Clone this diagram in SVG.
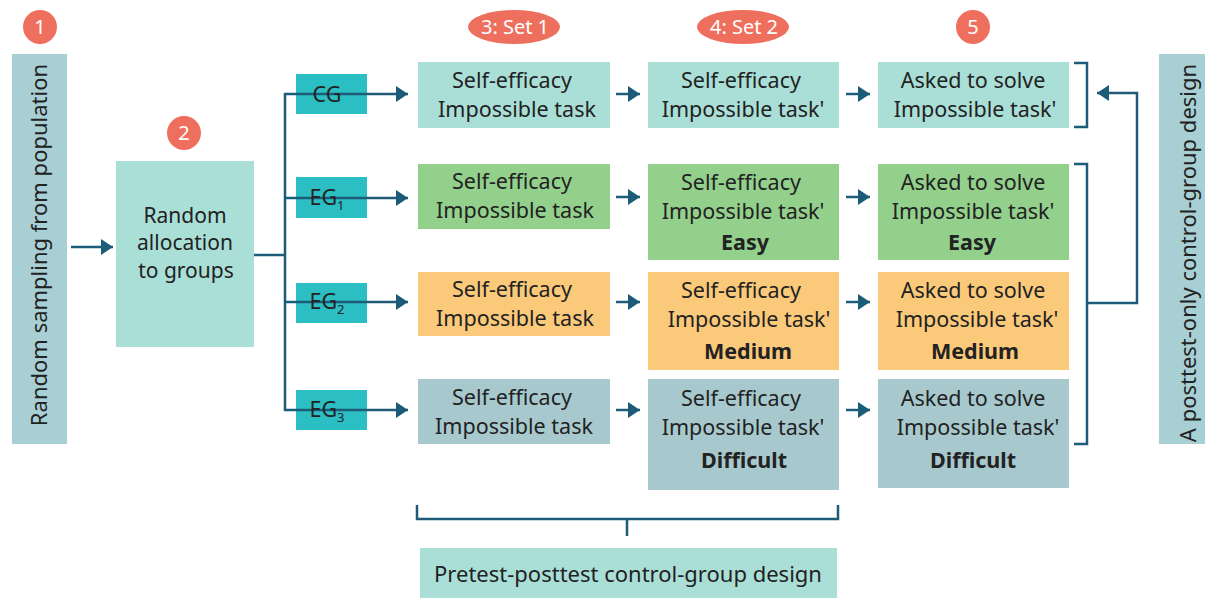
<svg xmlns="http://www.w3.org/2000/svg" width="1205" height="598" viewBox="0 0 1205 598">
<style>
text{font-family:"Noto Sans","Open Sans",sans-serif;fill:#222;}
.t{font-size:21.5px;text-anchor:middle;}
.b{font-weight:bold;}
.hd{font-size:20px;fill:#fff;text-anchor:middle;}
.ln{stroke:#1d5c78;stroke-width:2.5;fill:none;}
.cg{fill:#aadfd8;}
.eg1{fill:#93d08c;}
.eg2{fill:#fbc97a;}
.eg3{fill:#a7c9cd;}
.grp{fill:#2bbfc3;}
.side{fill:#a8d0d4;}
.badge{fill:#ef6f5e;}
</style>
<defs>
<marker id="ah" markerUnits="userSpaceOnUse" markerWidth="12" markerHeight="16" refX="12" refY="8" orient="auto">
<path d="M0,0 L12,8 L0,16 z" fill="#1d5c78"/>
</marker>
</defs>

<g id="badges">
<circle class="badge" cx="40" cy="27" r="17"/><text class="hd" x="40" y="34">1</text>
<circle class="badge" cx="184" cy="133" r="17"/><text class="hd" x="184" y="140">2</text>
<ellipse class="badge" cx="514" cy="27" rx="46" ry="17"/><text class="hd" x="515" y="34">3: Set 1</text>
<ellipse class="badge" cx="743" cy="27" rx="46" ry="17"/><text class="hd" x="744" y="34">4: Set 2</text>
<circle class="badge" cx="973" cy="27" r="17"/><text class="hd" x="973" y="34">5</text>
</g>

<g id="sampling">
<rect class="side" x="12" y="54" width="55" height="390"/>
<text class="t" style="font-size:22px" transform="translate(47,245) rotate(-90)">Random sampling from population</text>
</g>

<g id="allocation">
<rect class="cg" x="116" y="161" width="138" height="186"/>
<text class="t" x="185" y="223" style="font-size:21px">Random</text>
<text class="t" x="185" y="250" style="font-size:21px">allocation</text>
<text class="t" x="186" y="278" style="font-size:21px">to groups</text>
</g>

<g id="posttest-only">
<rect class="side" x="1159" y="54" width="46" height="390"/>
<text class="t" style="font-size:22px" transform="translate(1196,253) rotate(-90)">A posttest-only control-group design</text>
</g>

<g id="pretest-posttest">
<rect class="cg" x="420" y="548" width="417" height="50"/>
<text class="t" style="font-size:22px" x="628" y="582">Pretest-posttest control-group design</text>
</g>

<g id="connectors">
<line class="ln" x1="71" y1="247" x2="113" y2="247" marker-end="url(#ah)"/>
<polyline class="ln" points="254,255 285,255"/>
<line class="ln" x1="285" y1="93" x2="285" y2="411"/>
<line class="ln" x1="284" y1="94" x2="408" y2="94" marker-end="url(#ah)"/>
<line class="ln" x1="284" y1="198" x2="408" y2="198" marker-end="url(#ah)"/>
<line class="ln" x1="284" y1="302" x2="408" y2="302" marker-end="url(#ah)"/>
<line class="ln" x1="284" y1="410" x2="408" y2="410" marker-end="url(#ah)"/>
<line class="ln" x1="616" y1="94" x2="640" y2="94" marker-end="url(#ah)"/>
<line class="ln" x1="616" y1="197" x2="640" y2="197" marker-end="url(#ah)"/>
<line class="ln" x1="616" y1="302" x2="640" y2="302" marker-end="url(#ah)"/>
<line class="ln" x1="616" y1="410" x2="640" y2="410" marker-end="url(#ah)"/>
<line class="ln" x1="846" y1="94" x2="870" y2="94" marker-end="url(#ah)"/>
<line class="ln" x1="846" y1="197" x2="870" y2="197" marker-end="url(#ah)"/>
<line class="ln" x1="846" y1="302" x2="870" y2="302" marker-end="url(#ah)"/>
<line class="ln" x1="846" y1="410" x2="870" y2="410" marker-end="url(#ah)"/>
<polyline class="ln" points="1074,63 1087,63 1087,127 1074,127"/>
<polyline class="ln" points="1074,164 1087,164 1087,444 1074,444"/>
<polyline class="ln" points="1087,303 1137,303 1137,93 1097,93" marker-end="url(#ah)"/>
<polyline class="ln" points="417,505 417,519 838,519 838,505"/>
<line class="ln" x1="627" y1="519" x2="627" y2="536"/>
</g>

<g id="CG">
<rect class="grp" x="296" y="74" width="71" height="40"/>
<line class="ln" x1="296" y1="94" x2="367" y2="94"/>
<text class="t" x="327" y="102">CG</text>
</g>
<g id="EG1">
<rect class="grp" x="296" y="177" width="71" height="41"/>
<line class="ln" x1="296" y1="198" x2="367" y2="198"/>
<text class="t" x="327" y="205">EG<tspan font-size="13" dy="5">1</tspan></text>
</g>
<g id="EG2">
<rect class="grp" x="296" y="283" width="71" height="40"/>
<line class="ln" x1="296" y1="302" x2="367" y2="302"/>
<text class="t" x="327" y="309">EG<tspan font-size="13" dy="5">2</tspan></text>
</g>
<g id="EG3">
<rect class="grp" x="296" y="390" width="71" height="40"/>
<line class="ln" x1="296" y1="410" x2="367" y2="410"/>
<text class="t" x="327" y="417">EG<tspan font-size="13" dy="5">3</tspan></text>
</g>

<g id="s1-cg">
<rect class="cg" x="418" y="62" width="192" height="66"/>
<text class="t" x="512" y="88">Self-efficacy</text>
<text class="t" x="517" y="117">Impossible task</text>
</g>
<g id="s1-eg1">
<rect class="eg1" x="418" y="164" width="192" height="65"/>
<text class="t" x="512" y="189">Self-efficacy</text>
<text class="t" x="515" y="218">Impossible task</text>
</g>
<g id="s1-eg2">
<rect class="eg2" x="418" y="272" width="192" height="64"/>
<text class="t" x="512" y="297">Self-efficacy</text>
<text class="t" x="515" y="326">Impossible task</text>
</g>
<g id="s1-eg3">
<rect class="eg3" x="418" y="379" width="192" height="65"/>
<text class="t" x="512" y="405">Self-efficacy</text>
<text class="t" x="514" y="434">Impossible task</text>
</g>

<g id="s2-cg">
<rect class="cg" x="648" y="62" width="191" height="66"/>
<text class="t" x="741" y="88">Self-efficacy</text>
<text class="t" x="743" y="117">Impossible task'</text>
</g>
<g id="s2-eg1">
<rect class="eg1" x="648" y="164" width="191" height="96"/>
<text class="t" x="741" y="190">Self-efficacy</text>
<text class="t" x="743" y="219">Impossible task'</text>
<text class="t b" x="745" y="250">Easy</text>
</g>
<g id="s2-eg2">
<rect class="eg2" x="648" y="272" width="191" height="98"/>
<text class="t" x="741" y="298">Self-efficacy</text>
<text class="t" x="749" y="327">Impossible task'</text>
<text class="t b" x="748" y="359">Medium</text>
</g>
<g id="s2-eg3">
<rect class="eg3" x="648" y="379" width="191" height="111"/>
<text class="t" x="741" y="406">Self-efficacy</text>
<text class="t" x="743" y="435">Impossible task'</text>
<text class="t b" x="744" y="468">Difficult</text>
</g>

<g id="s5-cg">
<rect class="cg" x="878" y="62" width="191" height="66"/>
<text class="t" x="973" y="88">Asked to solve</text>
<text class="t" x="975" y="117">Impossible task'</text>
</g>
<g id="s5-eg1">
<rect class="eg1" x="878" y="164" width="191" height="96"/>
<text class="t" x="973" y="190">Asked to solve</text>
<text class="t" x="973" y="219">Impossible task'</text>
<text class="t b" x="972" y="250">Easy</text>
</g>
<g id="s5-eg2">
<rect class="eg2" x="878" y="272" width="191" height="98"/>
<text class="t" x="973" y="298">Asked to solve</text>
<text class="t" x="977" y="327">Impossible task'</text>
<text class="t b" x="975" y="359">Medium</text>
</g>
<g id="s5-eg3">
<rect class="eg3" x="878" y="379" width="191" height="109"/>
<text class="t" x="973" y="406">Asked to solve</text>
<text class="t" x="978" y="435">Impossible task'</text>
<text class="t b" x="973" y="468">Difficult</text>
</g>
</svg>
